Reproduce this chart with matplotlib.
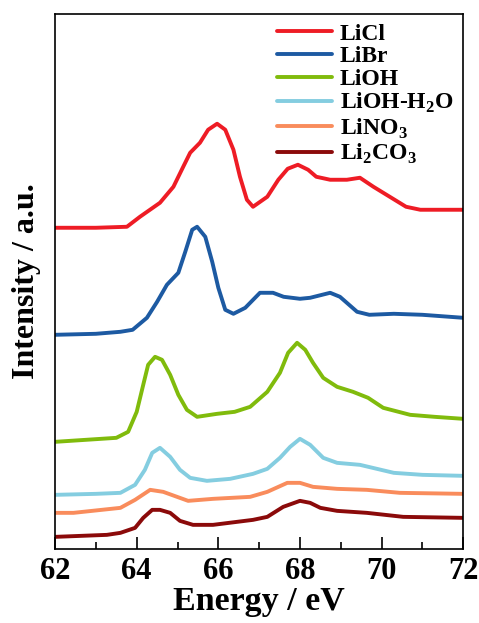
import matplotlib
matplotlib.use("Agg")
import matplotlib.pyplot as plt
from matplotlib.ticker import MultipleLocator

plt.rcParams["font.family"] = ["Liberation Serif", "DejaVu Serif"]
plt.rcParams["font.weight"] = "bold"
plt.rcParams["mathtext.fontset"] = "custom"
plt.rcParams["mathtext.rm"] = "Liberation Serif:bold"
plt.rcParams["mathtext.bf"] = "Liberation Serif:bold"

# ---- data (energy in eV, intensity offset-stacked, arbitrary units) ----
e_licl = [62, 63.0, 63.76, 64.08, 64.57, 64.9, 65.14, 65.31, 65.55, 65.75, 65.97,
          66.17, 66.37, 66.53, 66.7, 66.85, 67.2, 67.47, 67.7, 67.95, 68.2, 68.4,
          68.74, 69.15, 69.47, 69.8, 70.2, 70.6, 70.95, 72]
i_licl = [321, 321, 322, 332, 346, 362, 382, 396, 406, 419, 425,
          419, 399, 372, 349, 342, 352, 369, 380, 384, 379, 372,
          369, 369, 371, 362, 352, 342, 339, 339]

e_libr = [62, 63.0, 63.6, 63.9, 64.25, 64.5, 64.74, 65.02, 65.19, 65.36, 65.48,
          65.68, 65.85, 66.0, 66.17, 66.37, 66.66, 67.02, 67.34, 67.6, 68.0, 68.25,
          68.74, 68.98, 69.4, 69.7, 70.3, 71.0, 72]
i_libr = [214, 215, 217, 219, 231, 247, 264, 276, 297, 319, 322,
          312, 287, 261, 239, 235, 241, 256, 256, 252, 250, 251,
          256, 252, 237, 234, 235, 234, 231]

e_lioh = [62, 63.5, 63.79, 64.0, 64.16, 64.28, 64.45, 64.62, 64.82, 65.02, 65.23,
          65.48, 65.97, 66.4, 66.78, 67.2, 67.51, 67.71, 67.93, 68.13, 68.32, 68.57,
          68.91, 69.3, 69.67, 70.04, 70.7, 71.3, 72]
i_lioh = [107, 111, 117, 137, 164, 184, 192, 189, 174, 154, 139,
          132, 135, 137, 142, 157, 176, 196, 206, 199, 186, 171,
          162, 157, 151, 141, 134, 132, 130]

e_liohh2o = [62, 63.0, 63.6, 63.96, 64.2, 64.38, 64.57, 64.82, 65.06, 65.31, 65.72,
             66.29, 66.85, 67.2, 67.51, 67.76, 68.0, 68.25, 68.57, 68.91, 69.47, 70.3,
             71.0, 72]
i_liohh2o = [54, 55, 56, 64, 79, 96, 101, 92, 79, 71, 68,
             70, 75, 80, 91, 102, 110, 104, 91, 86, 84, 76,
             74, 73]

e_lino3 = [62, 62.45, 63.6, 63.96, 64.33, 64.65, 65.26, 65.87, 66.78, 67.2, 67.69,
           68.0, 68.32, 68.91, 69.64, 70.45, 72]
i_lino3 = [36, 36, 41, 49, 59, 57, 48, 50, 52, 57, 66,
           66, 62, 60, 59, 56, 55]

e_li2co3 = [62, 63.27, 63.6, 63.96, 64.16, 64.38, 64.57, 64.82, 65.06, 65.38, 65.87,
            66.85, 67.2, 67.59, 68.0, 68.25, 68.5, 68.91, 69.64, 70.53, 72]
i_li2co3 = [12, 14, 16, 21, 31, 39, 39, 36, 28, 24, 24,
            29, 32, 42, 48, 46, 41, 38, 36, 32, 31]

series = [
    ("LiCl", e_licl, i_licl, "#ee1c25"),
    ("LiBr", e_libr, i_libr, "#1d5aa2"),
    ("LiOH", e_lioh, i_lioh, "#80bb0c"),
    ("LiOH-H$_2$O", e_liohh2o, i_liohh2o, "#84cde0"),
    ("LiNO$_3$", e_lino3, i_lino3, "#f98c5c"),
    ("Li$_2$CO$_3$", e_li2co3, i_li2co3, "#8b0a0a"),
]

fig = plt.figure(figsize=(4.79, 6.23), dpi=100)
ax = fig.add_axes([0.115, 0.119, 0.852, 0.859])

for name, e, y, c in series:
    ax.plot(e, y, color=c, lw=2.8, label=name, solid_joinstyle="round",
            solid_capstyle="round")

ax.set_xlim(62, 72)
ax.set_ylim(0, 535)
ax.xaxis.set_major_locator(MultipleLocator(2))
ax.xaxis.set_minor_locator(MultipleLocator(1))
ax.tick_params(axis="x", which="major", direction="in", length=9, width=1.2,
               labelsize=22, pad=6)
ax.tick_params(axis="x", which="minor", direction="in", length=5, width=1.2)
ax.set_yticks([])
for sp in ax.spines.values():
    sp.set_linewidth(1.2)

ax.set_xlabel("Energy / eV", fontsize=24.5, fontweight="bold", labelpad=0)
ax.set_ylabel("Intensity / a.u.", fontsize=23, fontweight="bold", labelpad=10)

leg = ax.legend(loc="upper right", frameon=False, handlelength=2.3,
                handletextpad=0.35, labelspacing=0.05, borderaxespad=0.0,
                prop={"size": 17, "weight": "bold"})

fig.savefig("out.png", dpi=100)
